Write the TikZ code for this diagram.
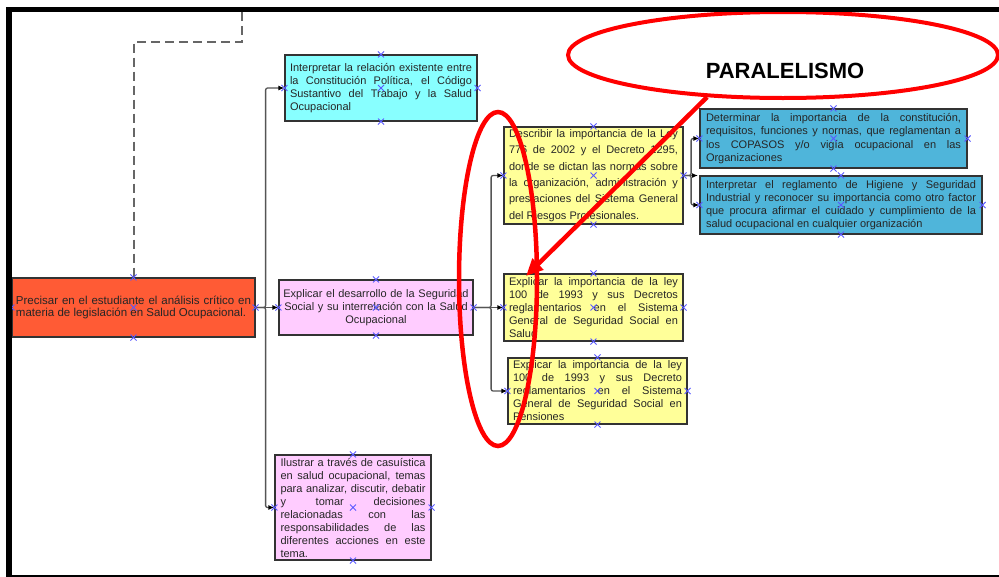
\documentclass[tikz,border=0pt]{standalone}
\usepackage{fontspec}
\setmainfont{Liberation Sans}
\usetikzlibrary{arrows.meta,shapes.geometric}

\definecolor{ink}{HTML}{262626}
\definecolor{edge}{HTML}{333333}
\definecolor{wire}{HTML}{555555}
\definecolor{dashgray}{HTML}{666666}
\definecolor{tomatofill}{HTML}{FF5B35}
\definecolor{cyanfill}{HTML}{88FFFF}
\definecolor{pinkfill}{HTML}{FFCCFF}
\definecolor{yellowfill}{HTML}{FFFF99}
\definecolor{bluefill}{HTML}{4FB5DA}
\definecolor{markblue}{HTML}{5A5AFF}

% paragraph settings for the text inside the boxes
\newcommand\boxtext[2]{\fontsize{#1}{#2}\selectfont
  \hyphenpenalty=10000 \tolerance=10000 \hbadness=10000 \hfuzz=3pt \parindent=0pt}

% blue connection-point crosses on the five anchors of a box
\newcommand\anchorxs[1]{%
  \foreach \a in {north,south,east,west,center}{\pic at (#1.\a) {xmark};}}

\begin{document}
\begin{tikzpicture}[x=1pt,y=-1pt,
  box/.style={draw=edge, line width=1.2pt, inner xsep=5pt, inner ysep=1pt,
    text=ink, align=justify, font={\boxtext{11}{13}}},
  conn/.style={draw=wire, line width=1.3pt, rounded corners=2pt,
    -{Latex[length=6pt,width=5pt,color=black]}},
  dashline/.style={draw=dashgray, line width=2pt, dash pattern=on 9pt off 5pt},
  redring/.style={ellipse, draw=red, inner sep=0pt},
  redarrow/.style={draw=red, line width=4.5pt,
    -{Triangle[length=17pt,width=15pt]}},
  xmark/.pic={\draw[markblue, line width=0.9pt] (-3,-3) -- (3,3) (-3,3) -- (3,-3);}
]
\useasboundingbox (0,0) rectangle (999,576);
\fill[white] (0,0) rectangle (999,576);

% ---------- boxes ----------
\node[box, fill=tomatofill, inner xsep=4pt, text width=235pt, minimum height=59pt,
      font={\boxtext{11.5}{12}}] (goal) at (133.5,307.5)
  {Precisar en el estudiante el análisis crítico en\break materia de legislación en Salud Ocupacional.};

\node[box, fill=cyanfill, text width=182pt, minimum height=66pt] (constit) at (381,88)
  {Interpretar la relación existente entre\break la Constitución Política, el Código\break Sustantivo del Trabajo y la Salud\break Ocupacional};

\node[box, fill=pinkfill, align=center, inner xsep=1pt, text width=192pt, minimum height=55pt] (segsoc) at (376,307.5)
  {Explicar el desarrollo de la Seguridad\\ Social y su interrelación con la Salud\\ Ocupacional};

\node[box, fill=pinkfill, inner xsep=5.5pt, text width=145pt, minimum height=105pt] (casos) at (353,507.5)
  {Ilustrar a través de casuística\break en salud ocupacional, temas\break para analizar, discutir, debatir\break y tomar decisiones\break relacionadas con las\break responsabilidades de las\break diferentes acciones en este\break tema.};

\node[box, fill=yellowfill, text width=169pt, minimum height=97pt,
      font={\boxtext{11}{16.4}}] (riesgos) at (593.5,175.5)
  {Describir la importancia de la Ley\break 776 de 2002 y el Decreto 1295,\break donde se dictan las normas sobre\break la organización, administración y\break prestaciones del Sistema General\break del Riesgos Profesionales.};

\node[box, fill=yellowfill, text width=169pt, minimum height=67pt] (salud) at (593.5,307.5)
  {Explicar la importancia de la ley\break 100 de 1993 y sus Decretos\break reglamentarios en el Sistema\break General de Seguridad Social en\break Salud};

\node[box, fill=yellowfill, text width=169pt, minimum height=66pt] (pension) at (597.5,391)
  {Explicar la importancia de la ley\break 100 de 1993 y sus Decreto\break reglamentarios en el Sistema\break General de Seguridad Social en\break Pensiones};

\node[box, fill=bluefill, inner xsep=6pt, text width=255pt, minimum height=59pt,
      font={\boxtext{11}{13.3}}] (copasos) at (833.5,138.5)
  {Determinar la importancia de la constitución,\break requisitos, funciones y normas, que reglamentan a\break los COPASOS y/o vigía ocupacional en las\break Organizaciones};

\node[box, fill=bluefill, inner xsep=6pt, text width=270pt, minimum height=58pt] (higiene) at (841,205)
  {Interpretar el reglamento de Higiene y Seguridad\break Industrial y reconocer su importancia como otro factor\break que procura afirmar el cuidado y cumplimiento de la\break salud ocupacional en cualquier organización};

% ---------- connectors ----------
\coordinate (dtop) at (242,12);
\draw[dashline] (dtop) -- (242,41.5) -| (goal.north);

\draw[conn] (goal.east) -- ++(10,0) |- (constit.west);
\draw[conn] (goal.east) -- (segsoc.west);
\draw[conn] (goal.east) -- ++(10,0) |- (casos.west);

\draw[conn] (segsoc.east) -- ++(17.5,0) |- (riesgos.west);
\draw[conn] (segsoc.east) -- (salud.west);
\draw[conn] (segsoc.east) -- ++(17.5,0) |- (pension.west);

\coordinate (stub) at (698,175.5);
\draw[conn] (riesgos.east) -- (stub);
\draw[conn] (riesgos.east) -- ++(7.5,0) |- (copasos.west);
\draw[conn] (riesgos.east) -- ++(7.5,0) |- (higiene.west);

% ---------- connection points ----------
\anchorxs{goal}
\anchorxs{constit}
\anchorxs{segsoc}
\anchorxs{casos}
\anchorxs{riesgos}
\anchorxs{salud}
\anchorxs{pension}
\anchorxs{copasos}
\anchorxs{higiene}

% ---------- red highlight ----------
\node[redring, line width=4.5pt, minimum width=78pt, minimum height=334pt] (ring) at (498,279) {};
\node[redring, line width=4pt, minimum width=430pt, minimum height=86pt] (callout) at (783,55) {};
\node[font=\bfseries\fontsize{22}{22}\selectfont, text=black, inner sep=0pt] (calltext) at (785,71) {PARALELISMO};
\coordinate (ptip) at (526,276);
\draw[redarrow] (callout.209) -- (ptip);

% ---------- page frame ----------
\draw[black, line width=5pt] (999,9.5) -- (9,9.5);
\draw[black, line width=6pt] (9,7) -- (9,576);
\draw[black, line width=3pt] (6,576) -- (999,576);
\end{tikzpicture}
\end{document}
